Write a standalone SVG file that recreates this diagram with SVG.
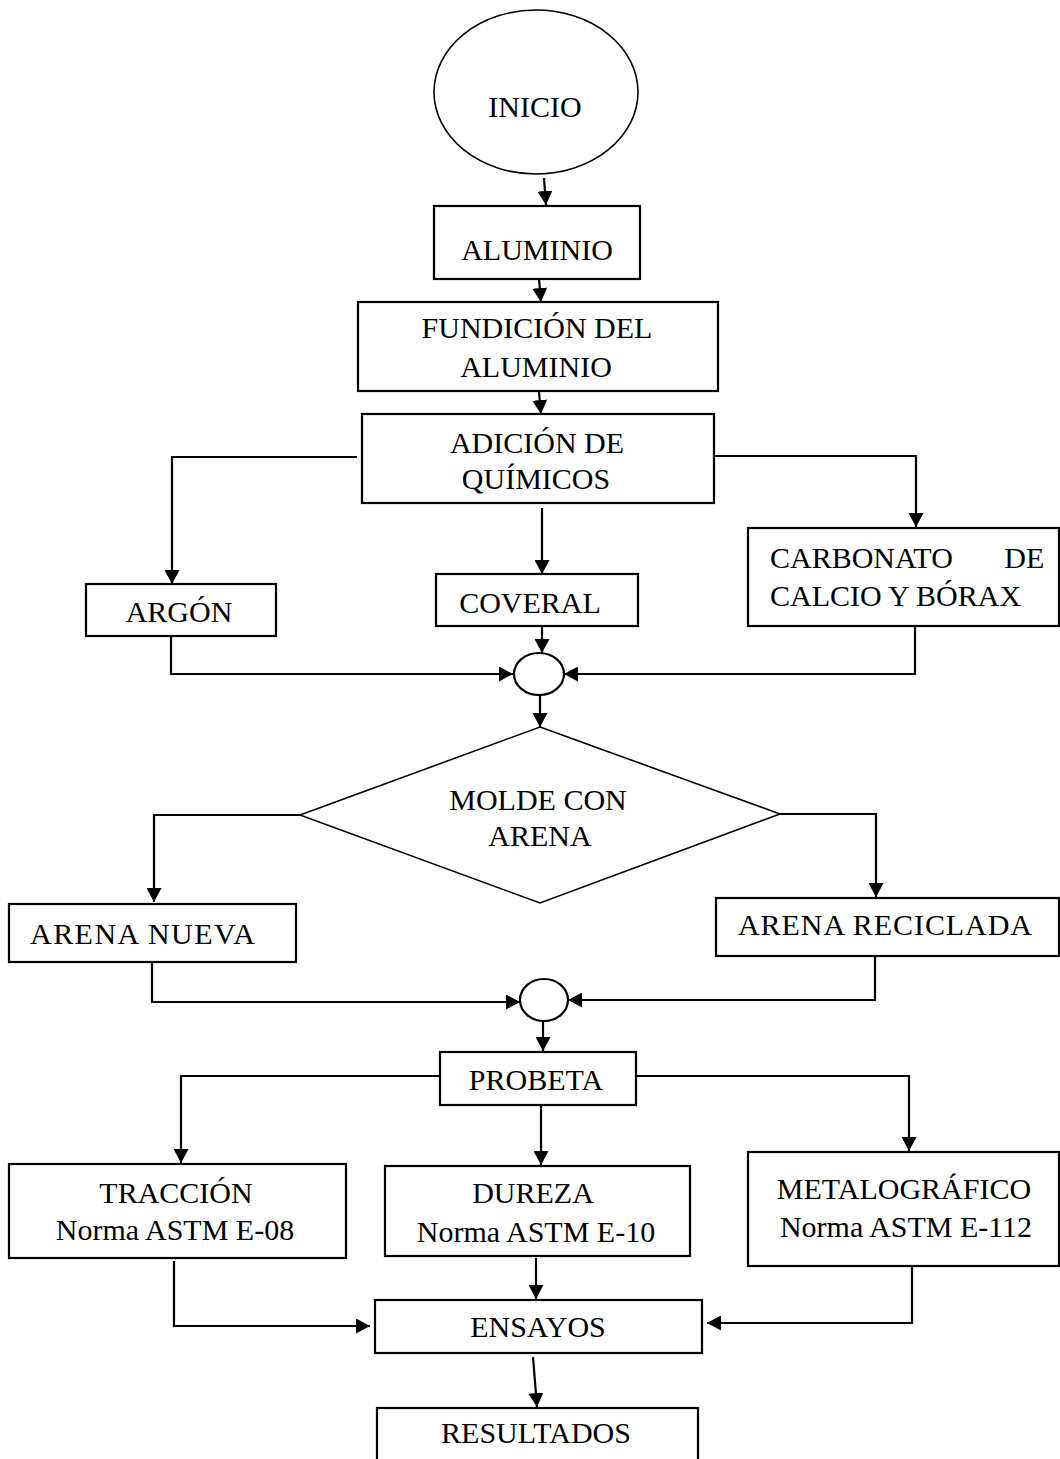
<svg xmlns="http://www.w3.org/2000/svg" width="1060" height="1459" viewBox="0 0 1060 1459">
<style>
.box{fill:#fff;stroke:#000;stroke-width:2.2}
.thin{fill:#fff;stroke:#000;stroke-width:1.6}
.t{font-family:"Liberation Serif","Times New Roman",serif;font-size:30px;fill:#000;text-anchor:middle}
.s{text-anchor:start}
.c{fill:none;stroke:#000;stroke-width:2.2;marker-end:url(#ah)}
</style>
<defs>
<marker id="ah" markerUnits="userSpaceOnUse" markerWidth="15" markerHeight="15" refX="14" refY="7.5" orient="auto">
<path d="M0,0 L14,7.5 L0,15 Z" fill="#000"/>
</marker>
</defs>
<rect width="1060" height="1459" fill="#fff"/>
<g id="connectors">
<path class="c" d="M544,178 L546,205"/>
<path class="c" d="M539,279 L541,302"/>
<path class="c" d="M539,392 L541,414"/>
<path class="c" d="M357,457 H172 V584"/>
<path class="c" d="M712,456 H916 V527"/>
<path class="c" d="M542,508 V574"/>
<path class="c" d="M171,632 V674 H513"/>
<path class="c" d="M542,626 V653"/>
<path class="c" d="M915,626 V674 H564"/>
<path class="c" d="M540,695 V727"/>
<path class="c" d="M300,815 H154 V902"/>
<path class="c" d="M780,814 H876 V897"/>
<path class="c" d="M152,962 V1002 H520"/>
<path class="c" d="M875,956 V1000 H568"/>
<path class="c" d="M543,1021 V1051"/>
<path class="c" d="M440,1076 H181 V1163"/>
<path class="c" d="M636,1076 H909 V1151"/>
<path class="c" d="M541,1105 V1165"/>
<path class="c" d="M174,1261 V1326 H370"/>
<path class="c" d="M536,1258 V1299"/>
<path class="c" d="M912,1262 V1323 H707"/>
<path class="c" d="M533,1357 L537,1407"/>
</g>
<g id="inicio">
<ellipse class="thin" cx="536" cy="92" rx="102" ry="82"/>
<text class="t" x="535" y="117">INICIO</text>
</g>
<g id="aluminio">
<rect class="box" x="434" y="206" width="206" height="73"/>
<text class="t" x="537" y="260">ALUMINIO</text>
</g>
<g id="fundicion">
<rect class="box" x="358" y="302" width="360" height="89"/>
<text class="t" x="537" y="338">FUNDICIÓN DEL</text>
<text class="t" x="536" y="377">ALUMINIO</text>
</g>
<g id="adicion">
<rect class="box" x="362" y="414" width="352" height="89"/>
<text class="t" x="537" y="453">ADICIÓN DE</text>
<text class="t" x="536" y="489">QUÍMICOS</text>
</g>
<g id="argon">
<rect class="box" x="86" y="584" width="190" height="52"/>
<text class="t" x="179" y="622">ARGÓN</text>
</g>
<g id="coveral">
<rect class="box" x="436" y="574" width="202" height="52"/>
<text class="t" x="530" y="613">COVERAL</text>
</g>
<g id="carbonato">
<rect class="box" x="748" y="528" width="311" height="98"/>
<text class="t s" x="770" y="568" word-spacing="44">CARBONATO DE</text>
<text class="t s" x="770" y="606">CALCIO Y BÓRAX</text>
</g>
<g id="union1">
<ellipse class="box" cx="539" cy="674" rx="25" ry="21"/>
</g>
<g id="molde">
<polygon class="thin" points="540,727 780,814 540,903 300,815"/>
<text class="t" x="538" y="810">MOLDE CON</text>
<text class="t" x="540" y="846">ARENA</text>
</g>
<g id="arena-nueva">
<rect class="box" x="9" y="904" width="287" height="58"/>
<text class="t s" x="30" y="944" textLength="225" lengthAdjust="spacing">ARENA NUEVA</text>
</g>
<g id="arena-reciclada">
<rect class="box" x="716" y="898" width="343" height="58"/>
<text class="t s" x="738" y="935" textLength="294" lengthAdjust="spacing">ARENA RECICLADA</text>
</g>
<g id="union2">
<ellipse class="box" cx="544" cy="1000" rx="24" ry="21"/>
</g>
<g id="probeta">
<rect class="box" x="440" y="1052" width="196" height="53"/>
<text class="t" x="536" y="1090">PROBETA</text>
</g>
<g id="traccion">
<rect class="box" x="9" y="1164" width="337" height="94"/>
<text class="t" x="176" y="1203">TRACCIÓN</text>
<text class="t" x="175" y="1240">Norma ASTM E-08</text>
</g>
<g id="dureza">
<rect class="box" x="385" y="1166" width="305" height="90"/>
<text class="t" x="533" y="1203">DUREZA</text>
<text class="t" x="536" y="1242">Norma ASTM E-10</text>
</g>
<g id="metalografico">
<rect class="box" x="748" y="1152" width="311" height="114"/>
<text class="t" x="904" y="1199">METALOGRÁFICO</text>
<text class="t" x="906" y="1237">Norma ASTM E-112</text>
</g>
<g id="ensayos">
<rect class="box" x="375" y="1300" width="327" height="53"/>
<text class="t" x="538" y="1337">ENSAYOS</text>
</g>
<g id="resultados">
<rect class="box" x="377" y="1408" width="321" height="70"/>
<text class="t" x="536" y="1443">RESULTADOS</text>
</g>
</svg>
